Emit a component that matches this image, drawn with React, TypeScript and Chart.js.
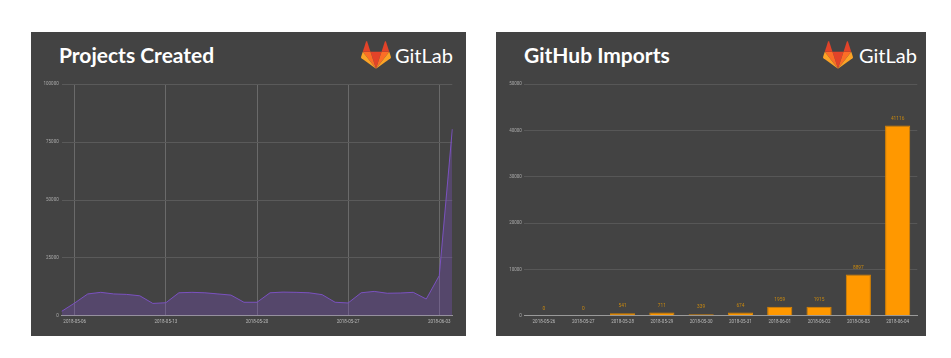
import React, { useEffect, useRef } from "react";
import { Chart, registerables } from "chart.js";

Chart.register(...registerables);

const projectDates = [
  "2018-05-05", "2018-05-06", "2018-05-07", "2018-05-08", "2018-05-09", "2018-05-10", "2018-05-11",
  "2018-05-12", "2018-05-13", "2018-05-14", "2018-05-15", "2018-05-16", "2018-05-17", "2018-05-18",
  "2018-05-19", "2018-05-20", "2018-05-21", "2018-05-22", "2018-05-23", "2018-05-24", "2018-05-25",
  "2018-05-26", "2018-05-27", "2018-05-28", "2018-05-29", "2018-05-30", "2018-05-31", "2018-06-01",
  "2018-06-02", "2018-06-03", "2018-06-04",
];
const projectsCreated = [
  1900, 5500, 9400, 10100, 9400, 9200, 8600,
  5300, 5600, 9900, 10100, 9900, 9400, 8900,
  5800, 5800, 9900, 10200, 10100, 9900, 9100,
  5800, 5500, 9900, 10500, 9700, 9800, 10100,
  7200, 17300, 80600,
];
const projectTickLabels = ["2018-05-06", "2018-05-13", "2018-05-20", "2018-05-27", "2018-06-03"];

const importDates = [
  "2018-05-26", "2018-05-27", "2018-05-28", "2018-05-29", "2018-05-30",
  "2018-05-31", "2018-06-01", "2018-06-02", "2018-06-03", "2018-06-04",
];
const githubImports = [0, 0, 541, 711, 339, 674, 1959, 1915, 8897, 41116];

const PANEL_BG = "#434343";
const TICK_FONT = { family: "Roboto, 'Liberation Sans', sans-serif", size: 4.5 };

function LeftChart() {
  const ref = useRef<HTMLCanvasElement>(null);
  useEffect(() => {
    const chart = new Chart(ref.current!, {
      type: "line",
      data: {
        labels: projectDates,
        datasets: [
          {
            data: projectsCreated,
            borderColor: "#7b52c0",
            backgroundColor: "rgba(123,82,192,0.32)",
            borderWidth: 1,
            fill: true,
            tension: 0,
            pointRadius: 0,
          },
        ],
      },
      options: {
        animation: false,
        responsive: false,
        layout: { padding: { left: 0, right: 13.7, top: 14.3, bottom: 0 } },
        plugins: { legend: { display: false }, tooltip: { enabled: false }, title: { display: false } },
        scales: {
          x: {
            afterFit: (s: any) => { s.height = 20.3; },
            ticks: {
              autoSkip: false,
              maxRotation: 0,
              padding: 3,
              color: "#bbbbbb",
              font: TICK_FONT,
              callback: (_v: any, i: number) => (projectTickLabels.includes(projectDates[i]) ? projectDates[i] : ""),
            },
            grid: {
              drawTicks: false,
              color: (ctx: any) => (projectTickLabels.includes(projectDates[ctx.index]) ? "#6a6a6a" : "rgba(0,0,0,0)"),
            },
            border: { color: "#9a9a9a", width: 1 },
          },
          y: {
            min: 0,
            max: 100000,
            afterFit: (s: any) => { s.width = 30.7; },
            ticks: { stepSize: 25000, padding: 3, color: "#aaaaaa", font: TICK_FONT, callback: (v: any) => String(v) },
            grid: { drawTicks: false, color: "#5a5a5a" },
            border: { display: false },
          },
        },
      },
    });
    return () => chart.destroy();
  }, []);
  return <canvas ref={ref} width={435} height={266} style={{ position: "absolute", left: 31, top: 70, width: 435, height: 266 }} />;
}

const barLabelPlugin = {
  id: "barLabels",
  afterDatasetsDraw(chart: any) {
    const ctx = chart.ctx;
    const meta = chart.getDatasetMeta(0);
    ctx.save();
    ctx.fillStyle = "#c8880f";
    ctx.font = "4.8px Roboto, 'Liberation Sans', sans-serif";
    ctx.textAlign = "center";
    ctx.textBaseline = "middle";
    meta.data.forEach((el: any, i: number) => {
      ctx.fillText(String(chart.data.datasets[0].data[i]), el.x, el.y - 7);
    });
    ctx.restore();
  },
};

function RightChart() {
  const ref = useRef<HTMLCanvasElement>(null);
  useEffect(() => {
    const chart = new Chart(ref.current!, {
      type: "bar",
      data: {
        labels: importDates,
        datasets: [
          {
            data: githubImports,
            backgroundColor: "#ff9800",
            borderColor: "#d98300",
            borderWidth: 1,
            barPercentage: 0.8,
            categoryPercentage: 0.8,
          },
        ],
      },
      plugins: [barLabelPlugin],
      options: {
        animation: false,
        responsive: false,
        layout: { padding: { left: 0, right: 8.7, top: 14.3, bottom: 0 } },
        plugins: { legend: { display: false }, tooltip: { enabled: false }, title: { display: false } },
        scales: {
          x: {
            afterFit: (s: any) => { s.height = 20.3; },
            ticks: { autoSkip: false, maxRotation: 0, padding: 3, color: "#bbbbbb", font: TICK_FONT },
            grid: { display: false, drawTicks: false },
            border: { color: "#9a9a9a", width: 1 },
          },
          y: {
            min: 0,
            max: 50000,
            afterFit: (s: any) => { s.width = 28.3; },
            ticks: { stepSize: 10000, padding: 2.5, color: "#aaaaaa", font: TICK_FONT, callback: (v: any) => String(v) },
            grid: { drawTicks: false, color: "#575757" },
            border: { display: false },
          },
        },
      },
    });
    return () => chart.destroy();
  }, []);
  return <canvas ref={ref} width={430} height={266} style={{ position: "absolute", left: 496, top: 70, width: 430, height: 266 }} />;
}

function Fox({ left, top }: { left: number; top: number }) {
  return (
    <svg viewBox="0 0 210 194" width={30} height={28} style={{ position: "absolute", left, top }}>
      <path d="M105.06,193.66 L143.7,74.73 L66.42,74.73 Z" fill="#E24329" />
      <path d="M105.06,193.65 L66.42,74.73 L12.27,74.73 Z" fill="#FC6D26" />
      <path d="M12.27,74.73 L0.53,110.87 C-0.54,114.17 0.63,117.78 3.43,119.82 L105.06,193.66 Z" fill="#FCA326" />
      <path d="M12.27,74.73 L66.42,74.73 L43.15,3.11 C41.95,-0.58 36.74,-0.58 35.54,3.11 Z" fill="#E24329" />
      <path d="M105.06,193.65 L143.7,74.73 L197.85,74.73 Z" fill="#FC6D26" />
      <path d="M197.85,74.73 L209.6,110.87 C210.67,114.17 209.49,117.78 206.69,119.82 L105.06,193.66 Z" fill="#FCA326" />
      <path d="M197.85,74.73 L143.7,74.73 L166.97,3.11 C168.17,-0.58 173.39,-0.58 174.58,3.11 Z" fill="#E24329" />
    </svg>
  );
}

const titleStyle: React.CSSProperties = {
  position: "absolute",
  fontFamily: "Lato, sans-serif",
  fontWeight: 700,
  fontSize: 21,
  lineHeight: "21px",
  color: "#ffffff",
  whiteSpace: "nowrap",
};
const brandStyle: React.CSSProperties = {
  position: "absolute",
  fontFamily: "Lato, sans-serif",
  fontWeight: 400,
  fontSize: 20,
  lineHeight: "20px",
  color: "#ffffff",
  whiteSpace: "nowrap",
};

export default function App() {
  return (
    <div style={{ position: "absolute", left: 0, top: 0, width: 951, height: 358, background: "#ffffff", overflow: "hidden" }}>
      <div style={{ position: "absolute", left: 31, top: 32, width: 435, height: 304, background: PANEL_BG }} />
      <div style={{ position: "absolute", left: 496, top: 32, width: 430, height: 304, background: PANEL_BG }} />
      <div style={{ ...titleStyle, left: 59, top: 44.4 }}>Projects Created</div>
      <div style={{ ...titleStyle, left: 524, top: 44.4 }}>GitHub Imports</div>
      <Fox left={361} top={41} />
      <Fox left={823} top={41} />
      <div style={{ ...brandStyle, left: 395, top: 45.3 }}>GitLab</div>
      <div style={{ ...brandStyle, left: 859, top: 45.3 }}>GitLab</div>
      <LeftChart />
      <RightChart />
    </div>
  );
}
